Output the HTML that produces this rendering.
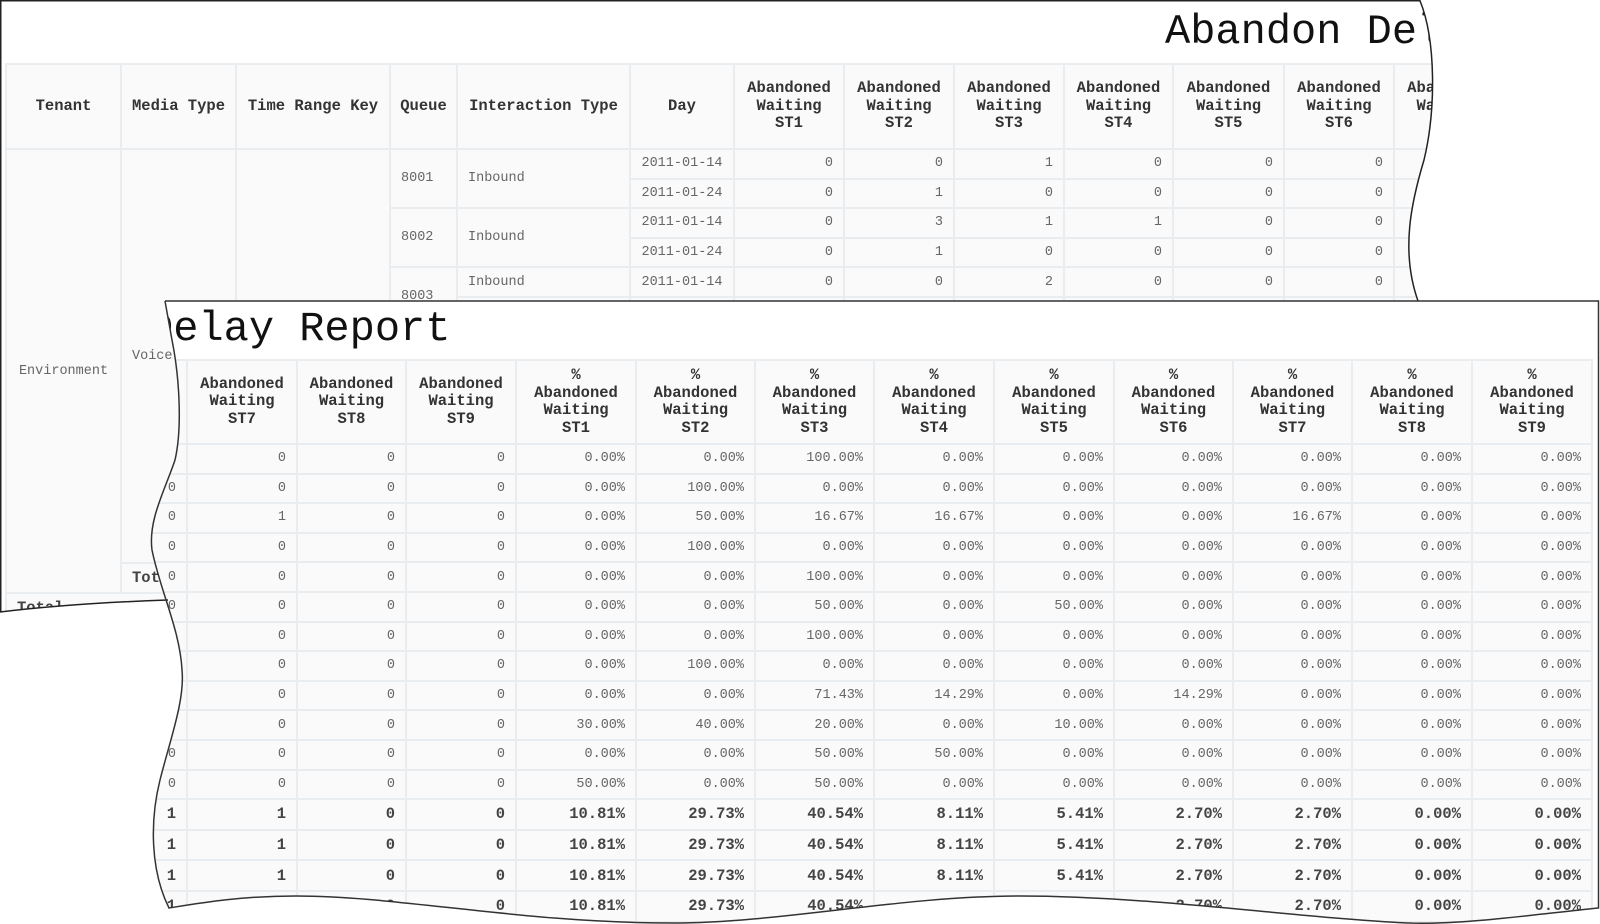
<!DOCTYPE html>
<html><head><meta charset="utf-8">
<style>
html,body{margin:0;padding:0;background:#fff;}
body{width:1600px;height:924px;position:relative;overflow:hidden;font-family:"Liberation Mono",monospace;}
.sheet{position:absolute;left:0;top:0;width:1600px;height:924px;background:#fff;}
#back{clip-path:path("M0,0 L1420,0 C1436,40 1436,110 1424,160 C1412,200 1400,250 1418,305 L1418,600 L168,600 C110,602 50,606 0,612 Z");}
#front{clip-path:path("M165,301 L1599,301 L1599,908 C1530,915 1460,925 1408,923 C1300,918 1150,896 1020,896 C900,896 780,923 673,923 C520,923 400,896 296,896 C240,896 200,903 169,908 C150,870 150,820 160,780 C170,740 185,700 182,670 C180,630 160,590 152,550 C148,520 165,490 175,460 C182,430 180,380 172,340 Z");}
table{position:absolute;border-collapse:collapse;table-layout:fixed;}
td,th{border:2px solid #eaedf0;background:#fafafa;padding:0;overflow:hidden;white-space:nowrap;}
th{font-weight:bold;font-size:15.5px;color:#333;line-height:17.5px;text-align:center;}
td{font-size:13.5px;color:#666;text-align:right;padding-right:10px;}
td.l{text-align:left;padding-left:10px;padding-right:0;}
td.c{text-align:center;padding:0;}
tr.b td{font-weight:bold;font-size:15.5px;color:#444;}
.title{position:absolute;font-size:42px;line-height:42px;color:#111;white-space:nowrap;}
</style></head><body>

<div id="back" class="sheet">
<div class="title" style="left:1165px;top:11px;">Abandon Delay Report</div>
<table style="left:5px;top:63px;width:1498px;">
<colgroup><col style="width:115px"><col style="width:115px"><col style="width:154px"><col style="width:67px"><col style="width:173px"><col style="width:104px"><col style="width:110px"><col style="width:110px"><col style="width:110px"><col style="width:109px"><col style="width:111px"><col style="width:110px"><col style="width:110px"></colgroup>
<tr style="height:85px"><th>Tenant</th><th>Media Type</th><th>Time Range Key</th><th>Queue</th><th>Interaction Type</th><th>Day</th><th>Abandoned<br>Waiting<br>ST1</th><th>Abandoned<br>Waiting<br>ST2</th><th>Abandoned<br>Waiting<br>ST3</th><th>Abandoned<br>Waiting<br>ST4</th><th>Abandoned<br>Waiting<br>ST5</th><th>Abandoned<br>Waiting<br>ST6</th><th>Abandoned<br>Waiting<br>ST7</th></tr>
<tr style="height:29.6px"><td class="c" rowspan="15">Environment</td><td class="l" rowspan="14">Voice</td><td rowspan="14"></td><td class="l" rowspan="2">8001</td><td class="l" rowspan="2">Inbound</td><td class="c">2011-01-14</td><td>0</td><td>0</td><td>1</td><td>0</td><td>0</td><td>0</td><td>0</td></tr>
<tr style="height:29.6px"><td class="c">2011-01-24</td><td>0</td><td>1</td><td>0</td><td>0</td><td>0</td><td>0</td><td>0</td></tr>
<tr style="height:29.6px"><td class="l" rowspan="2">8002</td><td class="l" rowspan="2">Inbound</td><td class="c">2011-01-14</td><td>0</td><td>3</td><td>1</td><td>1</td><td>0</td><td>0</td><td>1</td></tr>
<tr style="height:29.6px"><td class="c">2011-01-24</td><td>0</td><td>1</td><td>0</td><td>0</td><td>0</td><td>0</td><td>0</td></tr>
<tr style="height:29.6px"><td class="l" rowspan="2">8003</td><td class="l">Inbound</td><td class="c">2011-01-14</td><td>0</td><td>0</td><td>2</td><td>0</td><td>0</td><td>0</td><td>0</td></tr>
<tr style="height:29.6px"><td class="l">Outbound</td><td class="c">2011-01-24</td><td>0</td><td>0</td><td>1</td><td>0</td><td>0</td><td>0</td><td>0</td></tr>
<tr style="height:29.6px"><td class="l">8004</td><td class="l">Inbound</td><td class="c">2011-01-14</td><td>0</td><td>0</td><td>1</td><td>0</td><td>0</td><td>0</td><td>0</td></tr>
<tr style="height:29.6px"><td class="l">8005</td><td class="l">Inbound</td><td class="c">2011-01-14</td><td>0</td><td>1</td><td>0</td><td>0</td><td>0</td><td>0</td><td>0</td></tr>
<tr style="height:29.6px"><td class="l">8006</td><td class="l">Inbound</td><td class="c">2011-01-14</td><td>0</td><td>0</td><td>5</td><td>1</td><td>0</td><td>1</td><td>0</td></tr>
<tr style="height:29.6px"><td class="l">8007</td><td class="l">Inbound</td><td class="c">2011-01-14</td><td>3</td><td>4</td><td>2</td><td>0</td><td>1</td><td>0</td><td>0</td></tr>
<tr style="height:29.6px"><td class="l">8008</td><td class="l">Inbound</td><td class="c">2011-01-14</td><td>0</td><td>0</td><td>1</td><td>1</td><td>0</td><td>0</td><td>0</td></tr>
<tr style="height:29.6px"><td class="l">8009</td><td class="l">Inbound</td><td class="c">2011-01-14</td><td>1</td><td>0</td><td>1</td><td>0</td><td>0</td><td>0</td><td>0</td></tr>
<tr style="height:29.6px"><td class="l">8010</td><td class="l">Inbound</td><td class="c">2011-01-14</td><td>0</td><td>0</td><td>0</td><td>0</td><td>0</td><td>0</td><td>0</td></tr>
<tr style="height:29.6px"><td class="l">8011</td><td class="l">Inbound</td><td class="c">2011-01-14</td><td>0</td><td>0</td><td>0</td><td>0</td><td>0</td><td>0</td><td>0</td></tr>
<tr class="b" style="height:30px"><td class="l" colspan="5">Total</td><td>4</td><td>11</td><td>15</td><td>3</td><td>2</td><td>1</td><td>1</td></tr>
<tr class="b" style="height:30px"><td class="l" colspan="6">Total</td><td>4</td><td>11</td><td>15</td><td>3</td><td>2</td><td>1</td><td>1</td></tr>
</table>
</div>

<div id="front" class="sheet">
<div class="title" style="left:148px;top:308px;">Delay Report</div>
<table style="left:130px;top:359px;width:1461px;">
<colgroup><col style="width:56px"><col style="width:110px"><col style="width:109px"><col style="width:110px"><col style="width:120px"><col style="width:119px"><col style="width:119px"><col style="width:120px"><col style="width:120px"><col style="width:119px"><col style="width:119px"><col style="width:120px"><col style="width:120px"></colgroup>
<tr style="height:84px"><th></th><th>Abandoned<br>Waiting<br>ST7</th><th>Abandoned<br>Waiting<br>ST8</th><th>Abandoned<br>Waiting<br>ST9</th><th>%<br>Abandoned<br>Waiting<br>ST1</th><th>%<br>Abandoned<br>Waiting<br>ST2</th><th>%<br>Abandoned<br>Waiting<br>ST3</th><th>%<br>Abandoned<br>Waiting<br>ST4</th><th>%<br>Abandoned<br>Waiting<br>ST5</th><th>%<br>Abandoned<br>Waiting<br>ST6</th><th>%<br>Abandoned<br>Waiting<br>ST7</th><th>%<br>Abandoned<br>Waiting<br>ST8</th><th>%<br>Abandoned<br>Waiting<br>ST9</th></tr>
<tr style="height:29.6px"><td>0</td><td>0</td><td>0</td><td>0</td><td>0.00%</td><td>0.00%</td><td>100.00%</td><td>0.00%</td><td>0.00%</td><td>0.00%</td><td>0.00%</td><td>0.00%</td><td>0.00%</td></tr>
<tr style="height:29.6px"><td>0</td><td>0</td><td>0</td><td>0</td><td>0.00%</td><td>100.00%</td><td>0.00%</td><td>0.00%</td><td>0.00%</td><td>0.00%</td><td>0.00%</td><td>0.00%</td><td>0.00%</td></tr>
<tr style="height:29.6px"><td>0</td><td>1</td><td>0</td><td>0</td><td>0.00%</td><td>50.00%</td><td>16.67%</td><td>16.67%</td><td>0.00%</td><td>0.00%</td><td>16.67%</td><td>0.00%</td><td>0.00%</td></tr>
<tr style="height:29.6px"><td>0</td><td>0</td><td>0</td><td>0</td><td>0.00%</td><td>100.00%</td><td>0.00%</td><td>0.00%</td><td>0.00%</td><td>0.00%</td><td>0.00%</td><td>0.00%</td><td>0.00%</td></tr>
<tr style="height:29.6px"><td>0</td><td>0</td><td>0</td><td>0</td><td>0.00%</td><td>0.00%</td><td>100.00%</td><td>0.00%</td><td>0.00%</td><td>0.00%</td><td>0.00%</td><td>0.00%</td><td>0.00%</td></tr>
<tr style="height:29.6px"><td>0</td><td>0</td><td>0</td><td>0</td><td>0.00%</td><td>0.00%</td><td>50.00%</td><td>0.00%</td><td>50.00%</td><td>0.00%</td><td>0.00%</td><td>0.00%</td><td>0.00%</td></tr>
<tr style="height:29.6px"><td>0</td><td>0</td><td>0</td><td>0</td><td>0.00%</td><td>0.00%</td><td>100.00%</td><td>0.00%</td><td>0.00%</td><td>0.00%</td><td>0.00%</td><td>0.00%</td><td>0.00%</td></tr>
<tr style="height:29.6px"><td>0</td><td>0</td><td>0</td><td>0</td><td>0.00%</td><td>100.00%</td><td>0.00%</td><td>0.00%</td><td>0.00%</td><td>0.00%</td><td>0.00%</td><td>0.00%</td><td>0.00%</td></tr>
<tr style="height:29.6px"><td>1</td><td>0</td><td>0</td><td>0</td><td>0.00%</td><td>0.00%</td><td>71.43%</td><td>14.29%</td><td>0.00%</td><td>14.29%</td><td>0.00%</td><td>0.00%</td><td>0.00%</td></tr>
<tr style="height:29.6px"><td>0</td><td>0</td><td>0</td><td>0</td><td>30.00%</td><td>40.00%</td><td>20.00%</td><td>0.00%</td><td>10.00%</td><td>0.00%</td><td>0.00%</td><td>0.00%</td><td>0.00%</td></tr>
<tr style="height:29.6px"><td>0</td><td>0</td><td>0</td><td>0</td><td>0.00%</td><td>0.00%</td><td>50.00%</td><td>50.00%</td><td>0.00%</td><td>0.00%</td><td>0.00%</td><td>0.00%</td><td>0.00%</td></tr>
<tr style="height:29.6px"><td>0</td><td>0</td><td>0</td><td>0</td><td>50.00%</td><td>0.00%</td><td>50.00%</td><td>0.00%</td><td>0.00%</td><td>0.00%</td><td>0.00%</td><td>0.00%</td><td>0.00%</td></tr>
<tr class="b" style="height:30.6px"><td>1</td><td>1</td><td>0</td><td>0</td><td>10.81%</td><td>29.73%</td><td>40.54%</td><td>8.11%</td><td>5.41%</td><td>2.70%</td><td>2.70%</td><td>0.00%</td><td>0.00%</td></tr>
<tr class="b" style="height:30.6px"><td>1</td><td>1</td><td>0</td><td>0</td><td>10.81%</td><td>29.73%</td><td>40.54%</td><td>8.11%</td><td>5.41%</td><td>2.70%</td><td>2.70%</td><td>0.00%</td><td>0.00%</td></tr>
<tr class="b" style="height:30.6px"><td>1</td><td>1</td><td>0</td><td>0</td><td>10.81%</td><td>29.73%</td><td>40.54%</td><td>8.11%</td><td>5.41%</td><td>2.70%</td><td>2.70%</td><td>0.00%</td><td>0.00%</td></tr>
<tr class="b" style="height:30.6px"><td>1</td><td>1</td><td>0</td><td>0</td><td>10.81%</td><td>29.73%</td><td>40.54%</td><td>8.11%</td><td>5.41%</td><td>2.70%</td><td>2.70%</td><td>0.00%</td><td>0.00%</td></tr>
</table>
</div>

<svg width="1600" height="924" style="position:absolute;left:0;top:0;pointer-events:none" fill="none">
<path d="M0.75,612 L0.75,0.75 L1420,0.75 C1436,40 1436,110 1424,160 C1412,200 1400,250 1418,301" stroke="#222" stroke-width="1.5"/>
<path d="M0,612 C50,606 110,602 168,600" stroke="#222" stroke-width="1.5"/>
<path d="M165,301 L1598.5,301 L1598.5,908 C1530,915 1460,925 1408,923 C1300,918 1150,896 1020,896 C900,896 780,923 673,923 C520,923 400,896 296,896 C240,896 200,903 169,908 C150,870 150,820 160,780 C170,740 185,700 182,670 C180,630 160,590 152,550 C148,520 165,490 175,460 C182,430 180,380 172,340 L165,301" stroke="#333" stroke-width="1.5"/>
</svg>
</body></html>
